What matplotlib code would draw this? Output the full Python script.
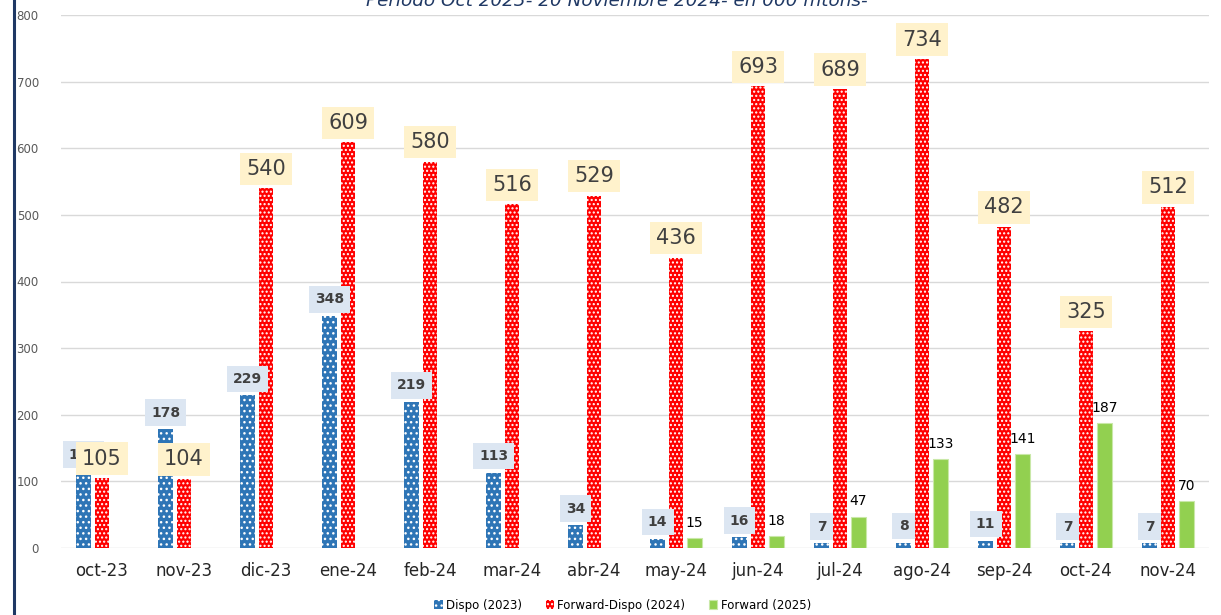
import numpy as np
import matplotlib
matplotlib.use("Agg")
import matplotlib.pyplot as plt
from matplotlib.lines import Line2D

meses = ["oct-23", "nov-23", "dic-23", "ene-24", "feb-24", "mar-24", "abr-24",
         "may-24", "jun-24", "jul-24", "ago-24", "sep-24", "oct-24", "nov-24"]
dispo_2023 = [115, 178, 229, 348, 219, 113, 34, 14, 16, 7, 8, 11, 7, 7]
fwd_dispo_2024 = [105, 104, 540, 609, 580, 516, 529, 436, 693, 689, 734, 482, 325, 512]
fwd_2025 = [np.nan, np.nan, np.nan, np.nan, np.nan, np.nan, np.nan,
            15, 18, 47, 133, 141, 187, 70]

titulo = "Período Oct 2023- 20 Noviembre 2024- en 000 mtons-"
series = ["Dispo (2023)", "Forward-Dispo (2024)", "Forward (2025)"]

plt.rcParams["hatch.linewidth"] = 1.0
fig = plt.figure(figsize=(12.21, 6.15), dpi=100)
ax = fig.add_axes([61 / 1221, 1 - 548 / 615, 1148 / 1221, 533 / 615])

x = np.arange(len(meses))
w = 0.18
off = 0.225
b1 = ax.bar(x - off, dispo_2023, w, color="#2E75B6", edgecolor="white",
            linewidth=0, hatch="...", zorder=2)
b2 = ax.bar(x, fwd_dispo_2024, w, color="#FF0000", edgecolor="white",
            linewidth=0, hatch="....", zorder=2)
b3 = ax.bar(x + off, fwd_2025, w, color="#92D050", edgecolor="#C9E8A8",
            linewidth=0.8, zorder=2)

for xi, v in zip(x, dispo_2023):
    ax.annotate(f"{v}", (xi - off, v), xytext=(0, 12), textcoords="offset points",
                ha="center", va="center", fontsize=10, fontweight="bold",
                color="#404040", zorder=4,
                bbox=dict(boxstyle="square,pad=0.45", fc="#DCE6F2", ec="none"))
for xi, v in zip(x, fwd_dispo_2024):
    ax.annotate(f"{v}", (xi, v), xytext=(0, 14), textcoords="offset points",
                ha="center", va="center", fontsize=15, color="#404040", zorder=5,
                bbox=dict(boxstyle="square,pad=0.3", fc="#FFF2CC", ec="none"))
for xi, v in zip(x, fwd_2025):
    if np.isnan(v):
        continue
    ax.annotate(f"{int(v)}", (xi + off, v), xytext=(0, 11), textcoords="offset points",
                ha="center", va="center", fontsize=10, color="#000000", zorder=4)

ax.set_ylim(0, 800)
ax.set_xlim(-0.5, len(meses) - 0.5)
ax.set_yticks(range(0, 801, 100))
ax.yaxis.grid(True, color="#D9D9D9", linewidth=1, zorder=0)
ax.set_axisbelow(True)
for s in ax.spines.values():
    s.set_visible(False)
ax.tick_params(axis="both", length=0)
ax.tick_params(axis="y", labelsize=8.5, labelcolor="#595959", pad=16)
ax.set_xticks(x)
ax.set_xticklabels(meses, fontsize=12, color="#262626")
ax.tick_params(axis="x", pad=10)

fig.text(617 / 1221, 1 - 1 / 615, titulo, ha="center", va="center",
         fontsize=13.2, style="italic", color="#1F3864")

handles = [b1, b2, b3]
fig.legend(handles, series, loc="center", bbox_to_anchor=(0.51, 1 - 605 / 615),
           ncol=3, frameon=False, fontsize=8.5, handlelength=0.7, handleheight=0.7,
           handletextpad=0.3, columnspacing=2.0)

fig.add_artist(Line2D([14 / 1221, 14 / 1221], [0, 1], color="#1F3864",
                      linewidth=2.2, transform=fig.transFigure))

fig.savefig("out.png", dpi=100)
